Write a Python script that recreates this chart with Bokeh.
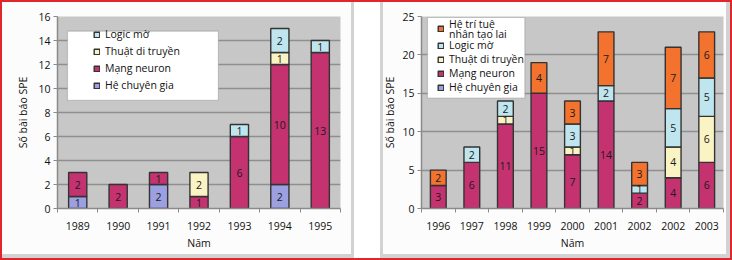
import numpy as np
from bokeh.plotting import figure
from bokeh.models import (ColumnDataSource, FixedTicker, Legend, LegendItem,
                          BoxAnnotation, Spacer, Range1d)
from bokeh.layouts import row
from bokeh.embed import file_html
from bokeh.resources import INLINE
from bokeh.core.properties import value

# ---------------- data ----------------
years_a = ["1989", "1990", "1991", "1992", "1993", "1994", "1995"]
expert_a = [1, 0, 2, 0, 0, 2, 0]
neural_a = [2, 2, 1, 1, 6, 10, 13]
genetic_a = [0, 0, 0, 2, 0, 1, 0]
fuzzy_a = [0, 0, 0, 0, 1, 2, 1]

years_b = ["1996", "1997", "1998", "1999", "2000", "2001", "2002", "2002", "2003"]
expert_b = [0, 0, 0, 0, 0, 0, 0, 0, 0]
neural_b = [3, 6, 11, 15, 7, 14, 2, 4, 6]
genetic_b = [0, 0, 1, 0, 1, 0, 0, 4, 6]
fuzzy_b = [0, 2, 2, 0, 3, 2, 1, 5, 5]
hybrid_b = [2, 0, 0, 4, 3, 7, 3, 8, 6]
hybrid_b_printed = ["2", "", "", "4", "3", "7", "3", "7", "6"]

names = ["Hệ chuyên gia", "Mạng neuron", "Thuật di truyền", "Logic mờ"]
hybrid_name_lines = ["Hệ trí tuệ", "nhân tạo lai"]
colors = ["#9c9fe0", "#c4336f", "#faf3c4", "#bfe6ef", "#f3722d"]

FONT = "Open Sans"
PLOT_BG = "#c7c7c7"
GRID = "#8f8f8f"
AXIS = "#8a8a8a"
EDGE = "#333333"
RED = "#e0262c"
PANEL = "#d2d2d2"


def make_legend(items, loc, spacing):
    return Legend(items=items, location=loc, padding=0, margin=0,
                  border_line_color=None, background_fill_alpha=0,
                  glyph_width=7, glyph_height=7, label_standoff=5,
                  label_height=12, spacing=spacing,
                  label_text_font=FONT, label_text_font_size="10.5px",
                  label_text_color="#111111")


def build(years, series, printed, width, height, borders, ymax, ystep, bar_w,
          legend_box, ytitle_standoff):
    n = len(years)
    p = figure(width=width, height=height, output_backend="svg", toolbar_location=None,
               x_range=Range1d(-0.5, n - 0.5), y_range=Range1d(0, ymax),
               min_border_left=borders[0], min_border_right=borders[1],
               min_border_top=borders[2], min_border_bottom=borders[3])
    p.border_fill_color = None
    p.background_fill_color = PLOT_BG
    p.outline_line_color = None
    p.xgrid.grid_line_color = None
    p.ygrid.grid_line_color = GRID
    p.ygrid.grid_line_width = 1.5
    p.yaxis.ticker = FixedTicker(ticks=list(range(0, ymax + 1, ystep)))
    p.xaxis.ticker = FixedTicker(ticks=list(range(n)),
                                 minor_ticks=[i - 0.5 for i in range(n + 1)])
    p.xaxis.major_label_overrides = {i: years[i] for i in range(n)}

    for ax in (p.xaxis, p.yaxis):
        ax.axis_line_color = AXIS
        ax.axis_line_width = 1.5
        ax.major_tick_line_color = AXIS
        ax.minor_tick_line_color = AXIS
        ax.major_tick_in = 0
        ax.minor_tick_in = 0
        ax.major_label_text_font = FONT
        ax.major_label_text_font_size = "10.5px"
        ax.major_label_text_color = "#111111"
        ax.axis_label_text_font = FONT
        ax.axis_label_text_font_size = "10.5px"
        ax.axis_label_text_font_style = "normal"
        ax.axis_label_text_color = "#111111"
    p.xaxis.major_tick_out = 0
    p.xaxis.minor_tick_out = 4
    p.xaxis.major_label_standoff = 9
    p.xaxis.axis_label_standoff = 3
    p.xaxis.axis_label = "Năm"
    p.yaxis.minor_tick_line_color = None
    p.yaxis.major_tick_out = 4
    p.yaxis.major_label_standoff = 3
    p.yaxis.axis_label = "Số bài báo SPE"
    p.yaxis.axis_label_standoff = ytitle_standoff

    bottom = np.zeros(n)
    renderers = []
    lx, ly, lt = [], [], []
    for k, vals in enumerate(series):
        vals = np.array(vals, dtype=float)
        idx = [i for i in range(n) if vals[i] > 0]
        idx_src = idx if idx else [0]
        src = ColumnDataSource(dict(x=idx_src, bottom=[bottom[i] for i in idx_src],
                                    top=[bottom[i] + vals[i] for i in idx_src]))
        r = p.vbar(x="x", bottom="bottom", top="top", width=bar_w, source=src,
                   fill_color=colors[k], line_color=EDGE, line_width=1.4)
        renderers.append(r)
        for i in idx:
            lx.append(i)
            ly.append(bottom[i] + vals[i] / 2)
            lt.append(printed[k][i])
        bottom = bottom + vals
    p.text(x=lx, y=ly, text=lt, text_align="center", text_baseline="middle",
           text_font=value(FONT), text_font_size="10.5px", text_color="#1a1a1a")

    box = BoxAnnotation(left=legend_box[0], right=legend_box[1],
                        bottom=legend_box[2], top=legend_box[3],
                        fill_color="white", fill_alpha=1.0,
                        line_color="#6a6a6a", line_width=1.2, level="annotation")
    p.add_layout(box)
    return p, renderers


printed_a = [[str(v) for v in s] for s in (expert_a, neural_a, genetic_a, fuzzy_a)]
p1, ra = build(years_a, [expert_a, neural_a, genetic_a, fuzzy_a], printed_a,
               354, 260, (57, 14, 11, 52), 16, 2, 0.45,
               (-0.253, 3.48, 9.02, 14.78), 5)
p1.add_layout(make_legend([LegendItem(label=names[k], renderers=[ra[k]]) for k in [3, 2, 1, 0]],
                          (36, 116), 3), "center")

printed_b = [[str(v) for v in s] for s in (expert_b, neural_b, genetic_b, fuzzy_b)] + [hybrid_b_printed]
p2, rb = build(years_b, [expert_b, neural_b, genetic_b, fuzzy_b, hybrid_b], printed_b,
               352, 260, (39, 9, 16, 49), 25, 5, 0.47,
               (-0.322, 2.579, 14.36, 24.87), 2)
# text-only helper renderer (no data, so the legend shows no swatch for it)
blank = p2.vbar(x=[], top=[], width=0.47, fill_color=None, line_color=None)
p2.add_layout(make_legend([LegendItem(label=hybrid_name_lines[0], renderers=[blank])], (16, 177), 0), "center")
p2.add_layout(make_legend([LegendItem(label=hybrid_name_lines[1], renderers=[blank])], (16, 167), 0), "center")
p2.add_layout(make_legend([LegendItem(label=" ", renderers=[rb[4]])], (16, 174), 0), "center")
p2.add_layout(make_legend([LegendItem(label=names[k], renderers=[rb[k]]) for k in [3, 2, 1, 0]],
                          (16, 114), 0), "center")

p1.styles = {"background-color": "#fcfcfc",
             "box-shadow": f"inset 0 2px 0 {RED}, inset 2px 0 0 {RED}, inset 0 -2px 0 {RED}, "
                           f"inset -3px 0 0 {PANEL}, inset 0 -6px 0 {PANEL}"}
p2.styles = {"background-color": "#fcfcfc",
             "box-shadow": f"inset 0 2px 0 {RED}, inset -2px 0 0 {RED}, inset 0 -2px 0 {RED}, "
                           f"inset 3px 0 0 {PANEL}, inset -6px 0 0 {PANEL}, inset 0 -6px 0 {PANEL}"}
spacer = Spacer(width=26, height=260,
                styles={"box-shadow": f"inset 0 2px 0 {RED}, inset 0 -2px 0 {RED}"})

layout = row(p1, spacer, p2)

open("out.html", "w").write(file_html(layout, INLINE))
